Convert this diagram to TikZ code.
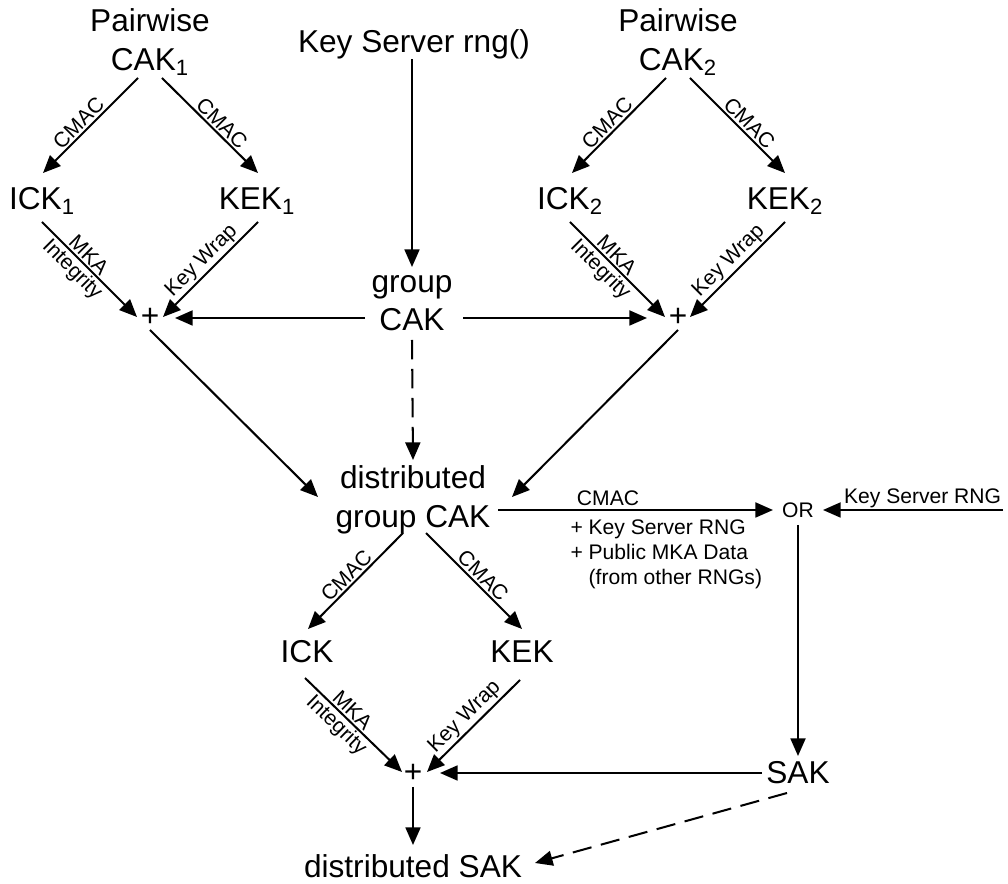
\documentclass[tikz,border=0pt]{standalone}
\usepackage{fontspec}
\setmainfont{Liberation Sans}
\usetikzlibrary{arrows.meta,calc}
\newcommand{\keyfont}{\fontsize{18}{22}\selectfont}
\newcommand{\lblfont}{\fontsize{12}{14.2}\selectfont}
\begin{document}
\begin{tikzpicture}[x=0.02cm, y=-0.02cm,
    key/.style={font=\keyfont, align=center, inner sep=0pt},
    lbl/.style={font=\lblfont, inner sep=1pt},
    arr/.style={line width=1.15pt, -{Triangle[length=10pt,width=8.5pt]}},
    dsh/.style={arr, dash pattern=on 11pt off 5.5pt}]
  \useasboundingbox (0,0) rectangle (1008,884);
  % keys
  \node[key] (cak1)  at (150, 42) {Pairwise\\CAK\textsubscript{1}};
  \node[key] (rng)   at (414, 44) {Key Server rng()};
  \node[key] (cak2)  at (678, 42) {Pairwise\\CAK\textsubscript{2}};
  \node[key] (ick1)  at ( 42,201) {ICK\textsubscript{1}};
  \node[key] (kek1)  at (257,201) {KEK\textsubscript{1}};
  \node[key] (ick2)  at (570,201) {ICK\textsubscript{2}};
  \node[key] (kek2)  at (785,201) {KEK\textsubscript{2}};
  \node[key] (plus1) at (150,317) {+};
  \node[key] (gcak)  at (412,303) {group\\CAK};
  \node[key] (plus2) at (678,317) {+};
  \node[key] (dgcak) at (413,500) {distributed\\group CAK};
  \node[lbl, inner sep=0pt] (or) at (798,510) {OR};
  \coordinate (ksr) at (1003,510);
  \node[key] (ick)   at (307,652) {ICK};
  \node[key] (kek)   at (522,652) {KEK};
  \node[key] (plus3) at (413,773) {+};
  \node[key] (sak)   at (798,773) {SAK};
  \node[key] (dsak)  at (413,866) {distributed SAK};
  % pairwise 1
  \draw[arr] ($(cak1)+(-12,36)$) -- ($(ick1)+(1,-28)$)
    node[lbl, sloped, above, pos=0.55] {CMAC};
  \draw[arr] ($(cak1)+(12,36)$) -- ($(kek1)+(1,-28)$)
    node[lbl, sloped, above, pos=0.55] {CMAC};
  \draw[arr] ($(ick1)+(0,21)$) -- ($(plus1)+(-13,0)$)
    node[lbl, sloped, above, pos=0.42] {MKA}
    node[lbl, sloped, below, pos=0.41] {Integrity};
  \draw[arr] ($(kek1)+(1,21)$) -- ($(plus1)+(13,0)$)
    node[lbl, sloped, above, pos=0.5] {Key Wrap};
  % pairwise 2
  \draw[arr] ($(cak2)+(-12,36)$) -- ($(ick2)+(2,-28)$)
    node[lbl, sloped, above, pos=0.55] {CMAC};
  \draw[arr] ($(cak2)+(12,36)$) -- ($(kek2)+(0,-28)$)
    node[lbl, sloped, above, pos=0.55] {CMAC};
  \draw[arr] ($(ick2)+(0,21)$) -- ($(plus2)+(-13,0)$)
    node[lbl, sloped, above, pos=0.42] {MKA}
    node[lbl, sloped, below, pos=0.41] {Integrity};
  \draw[arr] ($(kek2)+(0,21)$) -- ($(plus2)+(12,0)$)
    node[lbl, sloped, above, pos=0.5] {Key Wrap};
  % group CAK
  \draw[arr] (rng.south -| gcak) -- ($(gcak)+(0,-36)$);
  \draw[arr] ($(gcak)+(-47,15)$) -- ($(plus1)+(25,1)$);
  \draw[arr] ($(gcak)+(51,15)$) -- ($(plus2)+(-31,1)$);
  \draw[dsh] ($(gcak)+(0,37)$) -- ($(dgcak)+(0,-40)$);
  \draw[arr] ($(plus1)+(0,13)$) -- ($(dgcak)+(-95,-3)$);
  \draw[arr] ($(plus2)+(0,13)$) -- ($(dgcak)+(99,-3)$);
  % distributed group CAK
  \draw[arr] ($(dgcak)+(85,10)$) -- ($(or)+(-25,0)$)
    node[lbl, above, inner sep=2pt, pos=0.4] {CMAC}
    node[lbl, anchor=north west, align=left, inner sep=0pt, yshift=-5pt, pos=0.26]
      {+ Key Server RNG\\+ Public MKA Data\\\phantom{+} (from other RNGs)};
  \draw[arr] (ksr) node[lbl, anchor=south east, inner sep=0.5pt] {Key Server RNG}
    -- ($(or)+(25,0)$);
  \draw[arr] ($(or)+(0,15)$) -- ($(sak)+(0,-17)$);
  \draw[arr] ($(dgcak)+(-10,33)$) -- ($(ick)+(1,-23)$)
    node[lbl, sloped, above, pos=0.52] {CMAC};
  \draw[arr] ($(dgcak)+(13,33)$) -- ($(kek)+(0,-23)$)
    node[lbl, sloped, above, pos=0.52] {CMAC};
  \draw[arr] ($(ick)+(-2,26)$) -- ($(plus3)+(-11,-1)$)
    node[lbl, sloped, above, pos=0.42] {MKA}
    node[lbl, sloped, below, pos=0.41] {Integrity};
  \draw[arr] ($(kek)+(-2,28)$) -- ($(plus3)+(14,-1)$)
    node[lbl, sloped, above, pos=0.5] {Key Wrap};
  % SAK
  \draw[arr] ($(sak)+(-36,0)$) -- ($(plus3)+(27,0)$);
  \draw[arr] ($(plus3)+(0,14)$) -- ($(dsak)+(0,-21)$);
  \draw[dsh] ($(sak)+(-11,20)$) -- ($(dsak)+(122,-3)$);
\end{tikzpicture}
\end{document}
